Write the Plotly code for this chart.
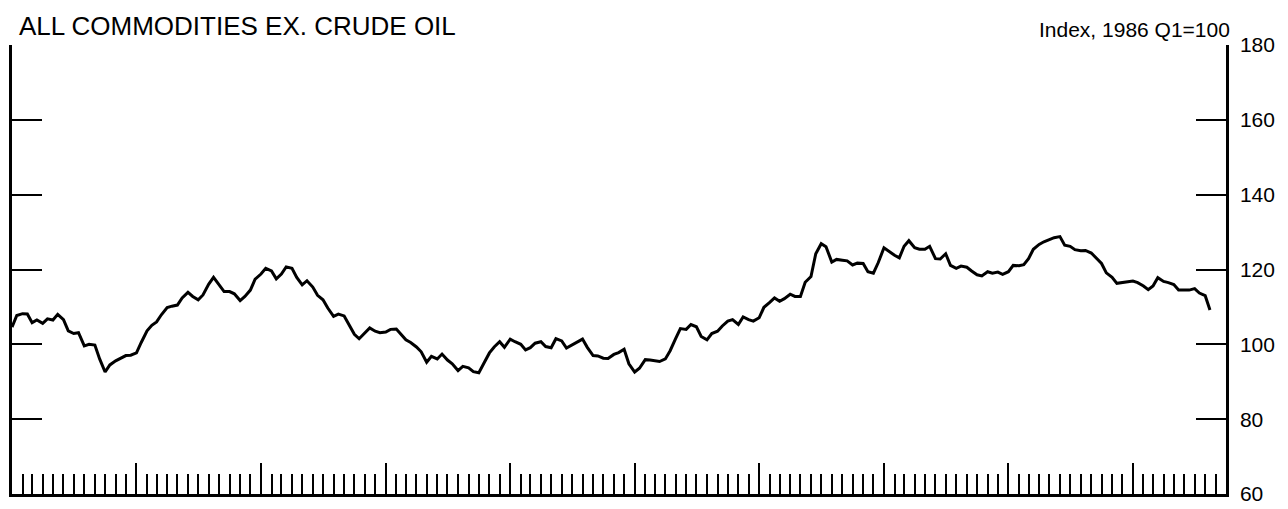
import pandas as pd
import plotly.graph_objects as go

# semi-monthly readings of the index, 1986 Q1 = 100
index_values = [
    104.6, 107.7, 108.2, 108.1, 105.8, 106.5, 105.6, 106.8, 106.5, 108.0,
    106.6, 103.6, 102.9, 103.1, 99.6, 100.0, 99.8, 96.1, 92.6, 94.5,
    95.6, 96.3, 97.0, 97.1, 97.7, 100.5, 103.6, 105.1, 106.0, 107.9,
    109.8, 110.2, 110.5, 112.4, 113.9, 112.8, 111.9, 113.2, 116.1, 117.9,
    115.9, 114.1, 114.1, 113.5, 111.7, 112.8, 114.5, 117.4, 118.8, 120.3,
    119.6, 117.5, 118.8, 120.7, 120.3, 117.9, 115.9, 117.0, 115.3, 113.1,
    111.9, 109.7, 107.5, 108.1, 107.6, 105.3, 102.7, 101.5, 103.1, 104.4,
    103.5, 103.1, 103.3, 104.0, 104.1, 102.7, 101.2, 100.5, 99.3, 98.0,
    95.2, 96.8, 96.1, 97.4, 95.8, 94.8, 93.0, 94.1, 93.7, 92.7,
    92.4, 94.8, 97.7, 99.3, 100.7, 99.2, 101.4, 100.7, 100.0, 98.5,
    99.1, 100.3, 100.7, 99.4, 99.1, 101.5, 100.9, 99.0, 99.8, 100.5,
    101.4, 99.2, 97.0, 96.9, 96.3, 96.2, 97.3, 97.8, 98.7, 94.8,
    92.6, 93.6, 95.9, 95.8, 95.7, 95.4, 96.1, 98.3, 101.5, 104.2,
    104.0, 105.3, 104.7, 102.1, 101.2, 102.9, 103.5, 104.9, 106.2, 106.6,
    105.3, 107.3, 106.6, 106.2, 107.1, 109.9, 111.2, 112.4, 111.5, 112.2,
    113.4, 112.8, 112.8, 116.6, 118.1, 124.2, 126.9, 126.1, 122.0, 122.7,
    122.5, 122.3, 121.2, 121.7, 121.6, 119.4, 119.0, 121.8, 125.8, 124.8,
    123.8, 123.1, 126.2, 127.7, 125.8, 125.4, 125.4, 126.2, 122.9, 122.8,
    124.2, 121.1, 120.3, 120.9, 120.6, 119.6, 118.6, 118.3, 119.4, 119.0,
    119.3, 118.7, 119.4, 121.1, 121.0, 121.3, 122.9, 125.4, 126.7, 127.4,
    127.9, 128.5, 128.8, 126.5, 126.2, 125.3, 125.0, 125.1, 124.4, 123.2,
    121.6, 119.1, 117.9, 116.3, 116.5, 116.7, 116.9, 116.5, 115.6, 114.6,
    115.6, 117.8, 116.8, 116.5, 116.0, 114.5, 114.4, 114.5, 114.9, 113.7,
    113.0, 109.2,
]
dates = pd.date_range("1986-01-01", periods=len(index_values), freq="SMS")

y_ticks = [60, 80, 100, 120, 140, 160, 180]
title_text = "ALL COMMODITIES EX. CRUDE OIL"
unit_text = "Index, 1986 Q1=100"

FONT = "Liberation Sans, Arial, Helvetica, sans-serif"

fig = go.Figure()
fig.add_trace(go.Scatter(x=dates, y=index_values, mode="lines",
                         line=dict(color="black", width=3),
                         yaxis="y", showlegend=False))
# invisible copy so the right-hand axis gets drawn
fig.add_trace(go.Scatter(x=dates, y=index_values, mode="lines",
                         line=dict(color="rgba(0,0,0,0)", width=0),
                         yaxis="y2", showlegend=False, hoverinfo="skip"))

# the page body adds 8px around the figure, so the figure is 8px smaller
fig.update_layout(
    width=1280, height=501,
    margin=dict(l=4, r=62, t=37, b=9),
    paper_bgcolor="white", plot_bgcolor="white",
    font=dict(family=FONT, color="black", size=21),
    xaxis=dict(
        range=["1986-01-01", "1995-10-01"],
        showgrid=False, zeroline=False,
        showline=True, linecolor="black", linewidth=2.5,
        ticks="inside", tickcolor="black", ticklen=31, tickwidth=2,
        dtick="M12", tick0="1986-01-01", showticklabels=False,
        minor=dict(ticks="inside", ticklen=20, tickwidth=2, tickcolor="black",
                   dtick="M1", showgrid=False),
    ),
    yaxis=dict(
        range=[60, 180], showgrid=False, zeroline=False,
        showline=True, linecolor="black", linewidth=2.5,
        ticks="inside", tickcolor="black", ticklen=30, tickwidth=2,
        tickvals=y_ticks[1:], showticklabels=False,
    ),
    yaxis2=dict(
        range=[60, 180], overlaying="y", side="right",
        showgrid=False, zeroline=False,
        showline=True, linecolor="black", linewidth=2.5,
        ticks="inside", tickcolor="black", ticklen=30, tickwidth=2,
        tickvals=y_ticks, ticktext=[str(v) for v in y_ticks],
        tickfont=dict(size=21), ticklabelstandoff=7,
        ticklabeloverflow="allow",
    ),
    annotations=[
        dict(text=title_text, xref="paper", yref="paper", x=0.004, y=1.081,
             xanchor="left", yanchor="top", showarrow=False,
             font=dict(size=26)),
        dict(text=unit_text, xref="paper", yref="paper", x=1.005, y=1.035,
             xanchor="right", yanchor="middle", showarrow=False,
             font=dict(size=21)),
    ],
)

fig.write_html("out.html")
